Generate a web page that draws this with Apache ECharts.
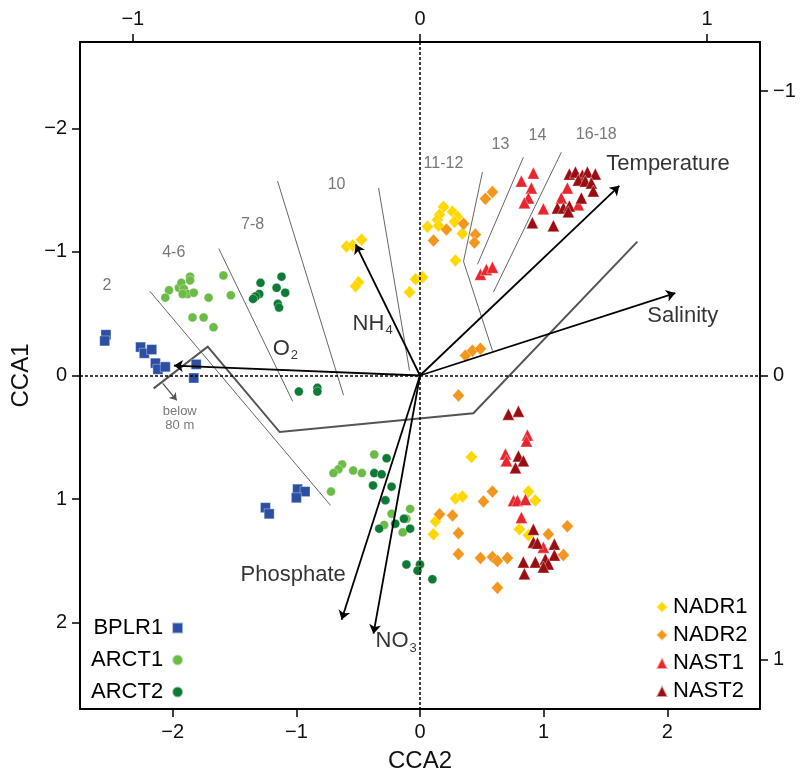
<!DOCTYPE html>
<html><head><meta charset="utf-8">
<script src="https://cdn.jsdelivr.net/npm/echarts@6/dist/echarts.min.js"></script>
<style>html,body{margin:0;padding:0;background:#fff}#c{width:809px;height:778px}</style>
</head><body><div id="c"></div>
<script>
// ---------- site scores (CCA2, CCA1) ----------
const BPLR1 = [[-2.54,-0.33],[-2.55,-0.28],[-2.26,-0.23],[-2.23,-0.18],[-2.17,-0.21],[-2.14,-0.10],[-2.12,-0.05],[-2.06,-0.07],[-1.81,-0.09],[-1.83,0.02],
  [-0.99,0.92],[-0.93,0.94],[-1.00,0.99],[-1.25,1.07],[-1.22,1.12]];
const ARCT1 = [[-2.03,-0.69],[-2.06,-0.63],[-1.95,-0.71],[-1.93,-0.75],[-1.86,-0.80],[-1.86,-0.77],[-1.91,-0.70],[-1.88,-0.66],[-1.83,-0.67],[-1.92,-0.66],
  [-1.71,-0.63],[-1.59,-0.81],[-1.53,-0.65],[-1.84,-0.47],[-1.75,-0.47],[-1.67,-0.39],
  [-0.63,0.72],[-0.66,0.76],[-0.70,0.79],[-0.54,0.77],[-0.47,0.79],[-0.37,0.64],[-0.72,0.94],[-0.23,1.12],[-0.08,1.08],[-0.11,1.16],[-0.29,1.21],[-0.14,1.27]];
const ARCT2 = [[-1.29,-0.75],[-1.12,-0.80],[-1.16,-0.71],[-1.09,-0.67],[-1.30,-0.66],[-1.33,-0.64],[-1.35,-0.62],[-1.15,-0.58],[-1.14,-0.55],
  [-0.98,0.13],[-0.83,0.10],[-0.83,0.13],
  [-0.27,0.67],[-0.37,0.79],[-0.31,0.80],[-0.38,0.89],[-0.23,0.90],[-0.28,1.01],[-0.13,1.16],[-0.20,1.20],[-0.33,1.24],[-0.08,1.24],
  [-0.11,1.53],[0.00,1.53],[-0.02,1.58],[0.10,1.65]];
const NADR1 = [[-0.594,-1.044],[-0.545,-1.052],[-0.473,-1.100],[-0.497,-0.755],[-0.521,-0.723],[-0.085,-0.675],[-0.036,-0.779],[0.020,-0.795],
  [0.061,-1.205],[0.190,-1.365],[0.158,-1.301],[0.141,-1.261],[0.150,-1.213],[0.263,-1.325],[0.303,-1.285],[0.279,-1.245],[0.343,-1.149],[0.287,-0.932],
  [0.416,0.659],[0.287,0.996],[0.343,0.980],[0.125,1.181],[0.109,1.285],[0.877,0.940],[0.933,1.012],[0.804,1.245],[0.877,1.293]];
const NADR2 = [[0.586,-1.486],[0.529,-1.430],[0.109,-1.092],[0.214,-1.181],[0.352,-1.229],[0.448,-1.141],[0.440,-1.076],
  [0.368,-0.161],[0.424,-0.201],[0.489,-0.217],[0.311,0.161],
  [0.586,0.940],[0.513,1.020],[0.158,1.124],[0.263,1.133],[0.311,1.277],[0.311,1.446],[0.489,1.478],[0.586,1.470],[0.626,1.502],[0.707,1.478],
  [0.626,1.719],[1.038,1.285],[1.192,1.221],[1.160,1.454]];
const NAST1 = [[0.917,-1.639],[0.820,-1.574],[0.901,-1.518],[0.877,-1.438],[0.844,-1.398],[0.998,-1.349],[1.192,-1.518],[1.143,-1.438],[1.281,-1.382],
  [0.489,-0.819],[0.537,-0.859],[0.586,-0.876],
  [0.869,0.482],[0.861,0.530],[0.691,0.635],[0.699,0.691],[0.756,1.012],[0.788,1.012],[0.853,1.004],[0.820,1.149],[0.998,1.390]];
const NAST2 = [[1.208,-1.631],[1.257,-1.647],[1.313,-1.622],[1.354,-1.647],[1.418,-1.631],[1.281,-1.582],[1.337,-1.574],[1.386,-1.558],[1.402,-1.494],
  [1.305,-1.438],[1.111,-1.357],[1.160,-1.357],[1.208,-1.373],[1.200,-1.325],[0.909,-1.237],[1.079,-1.213],
  [0.715,0.313],[0.796,0.289],[0.796,0.651],[0.836,0.691],[0.772,0.747],[0.917,1.245],[0.917,1.349],[0.950,1.357],[1.087,1.365],[1.087,1.454],
  [0.836,1.510],[0.933,1.510],[1.014,1.486],[1.038,1.526],[0.998,1.550],[0.844,1.606]];

// ---------- environmental vectors (top / right scale) ----------
const envNames = ['Temperature','Salinity','NH4','O2','Phosphate','NO3'];
const envX = [0.694, 0.889, -0.224, -0.857, -0.273, -0.162];
const envY = [-0.667, -0.290, -0.461, -0.035, 0.859, 0.908];
const envLabelX = [1.507, 1.838, -0.545, -1.192, -1.451, -0.360];
const envLabelY = [-1.711, -0.482, -0.418, -0.217, 1.614, 2.153];

// ---------- temperature isolines (bottom / left scale) ----------
const isoLines = [
  [[-2.186,-0.683],[-0.723,1.052]],
  [[-1.628,-1.028],[-1.030,0.209]],
  [[-1.152,-1.574],[-0.618,0.161]],
  [[-0.335,-1.518],[-0.085,-0.040]],
  [[0.505,-1.647],[0.352,-0.924],[0.586,-0.201]],
  [[0.836,-1.767],[0.465,-0.900]],
  [[1.143,-1.807],[0.594,-0.675]]
];
const isoLabels = ['2','4-6','7-8','10','11-12','13','14','16-18'];
const isoLabelX = [-2.533,-1.992,-1.354,-0.675,0.190,0.651,0.950,1.426];
const isoLabelY = [-0.731,-0.996,-1.221,-1.542,-1.719,-1.871,-1.944,-1.952];
const depthBoundary = [[-2.154,0.104],[-1.717,-0.233],[-1.135,0.458],[0.432,0.305],[1.758,-1.084]];
const belowArrow = [[-2.081,0.064],[-1.968,0.201]];
const belowLabel = [-1.943, 0.345];

// ---------- axes ----------
const xTicks = [-2,-1,0,1,2];
const yTicks = [-2,-1,0,1,2];
const x2Ticks = [-1,0,1];
const y2Ticks = [-1,0,1];

const FONT = 'Liberation Sans, Arial, Helvetica, sans-serif';
const fmt = v => v < 0 ? '\u2212' + Math.abs(v) : String(v);
const lineAx = {show:true, onZero:false, lineStyle:{color:'#000', width:2}};
function ax(ticks, extra){
  return Object.assign({
    type:'value', splitLine:{show:false}, axisLine:lineAx,
    axisTick:{show:true, inside:false, length:8, customValues:ticks, lineStyle:{color:'#000', width:1.5}},
    axisLabel:{show:true, customValues:ticks, formatter:fmt, fontSize:20, color:'#111', fontFamily:FONT, margin:13}
  }, extra);
}

const subRich = {
  m:{fontSize:22, fontFamily:FONT, color:'#000', textBorderWidth:0},
  s:{fontSize:13, fontFamily:FONT, color:'#000', textBorderWidth:0, padding:[14,0,0,1]}
};
function envFmt(n){
  if (n === 'NH4') return '{m|NH}{s|4}';
  if (n === 'O2') return '{m|O}{s|2}';
  if (n === 'NO3') return '{m|NO}{s|3}';
  return '{m|' + n + '}';
}
const hidden = {color:'rgba(0,0,0,0)', borderWidth:0};

const chart = echarts.init(document.getElementById('c'), null, {renderer:'canvas'});
const pt = (name, symbol, size, color, data) => ({
  name, type:'scatter', symbol, symbolSize:size, data, z:3,
  itemStyle:{color, borderColor:'rgba(255,255,255,0.6)', borderWidth:0.6, opacity:1}
});

chart.setOption({
  animation:false,
  backgroundColor:'#fff',
  textStyle:{fontFamily:FONT},
  grid:{left:80, right:49, top:42, bottom:65, containLabel:false},
  xAxis:[
    ax(xTicks, {position:'bottom', min:-2.75, max:2.75, name:'CCA2', nameLocation:'middle', nameGap:40,
      nameTextStyle:{fontSize:24, color:'#111', fontFamily:FONT}}),
    ax(x2Ticks, {position:'top', min:-1.184, max:1.184})
  ],
  yAxis:[
    ax(yTicks, {position:'left', inverse:true, min:-2.7, max:2.7, name:'CCA1', nameLocation:'middle', nameGap:43, nameRotate:90,
      nameTextStyle:{fontSize:24, color:'#111', fontFamily:FONT}}),
    ax(y2Ticks, {position:'right', inverse:true, min:-1.173, max:1.173})
  ],
  legend:[
    {data:['BPLR1','ARCT1','ARCT2'], orient:'vertical', left:86, top:612, align:'right', itemGap:10,
     itemWidth:11, itemHeight:11, textStyle:{fontSize:22, color:'#000', fontFamily:FONT, padding:[0,4,0,0]}},
    {data:['NADR1','NADR2','NAST1','NAST2'], orient:'vertical', left:650, top:591, align:'left', itemGap:6,
     itemWidth:12, itemHeight:12, textStyle:{fontSize:22, color:'#000', fontFamily:FONT}}
  ],
  series:[
    {type:'lines', coordinateSystem:'cartesian2d', polyline:true, silent:true, z:1,
     lineStyle:{color:'#666', width:1, opacity:1},
     data:isoLines.map(c => ({coords:c}))},
    {type:'lines', coordinateSystem:'cartesian2d', polyline:true, silent:true, z:1,
     lineStyle:{color:'#555', width:2, opacity:1},
     data:[{coords:depthBoundary}]},
    {type:'lines', coordinateSystem:'cartesian2d', silent:true, z:1,
     symbol:['none','arrow'], symbolSize:7,
     lineStyle:{color:'#555', width:1.3, opacity:1},
     data:[{coords:belowArrow}]},
    {type:'scatter', symbol:'circle', symbolSize:1, itemStyle:hidden, silent:true, z:2,
     data:isoLabels.map((n,i) => ({name:n, value:[isoLabelX[i], isoLabelY[i]]})),
     label:{show:true, position:'inside', formatter:p => p.name, fontSize:16, color:'#555', textBorderWidth:0, fontFamily:FONT},
     markLine:{silent:true, symbol:['none','none'], label:{show:false},
       lineStyle:{type:[3,2], color:'#000', width:1.5},
       data:[{xAxis:0},{yAxis:0}]}},
    {type:'scatter', symbol:'circle', symbolSize:1, itemStyle:hidden, silent:true, z:2,
     data:[{name:'below\n80 m', value:belowLabel}],
     label:{show:true, position:'inside', formatter:p => p.name, fontSize:13, lineHeight:14, color:'#555', textBorderWidth:0, fontFamily:FONT}},
    pt('BPLR1','rect',10,'#2b4fa3',BPLR1),
    pt('ARCT1','circle',9,'#6cbb47',ARCT1),
    pt('ARCT2','circle',9,'#0d7a35',ARCT2),
    pt('NADR1','diamond',[12,13],'#ffd800',NADR1),
    pt('NADR2','diamond',[12,13],'#f2961d',NADR2),
    pt('NAST1','triangle',12,'#e8262e',NAST1),
    pt('NAST2','triangle',12,'#9c0d12',NAST2),
    {type:'lines', coordinateSystem:'cartesian2d', xAxisIndex:1, yAxisIndex:1, silent:true, z:5,
     symbol:['none','arrow'], symbolSize:9,
     lineStyle:{color:'#000', width:1.8, opacity:1},
     data:envX.map((x,i) => ({coords:[[0,0],[x,envY[i]]]}))},
    {type:'scatter', symbol:'circle', symbolSize:1, itemStyle:hidden, silent:true, z:6,
     data:envNames.map((n,i) => ({name:n, value:[envLabelX[i], envLabelY[i]]})),
     label:{show:true, position:'inside', align:'left', verticalAlign:'middle', color:'#000', textBorderWidth:0,
       formatter:p => envFmt(p.name), rich:subRich}}
  ]
});
</script>
</body></html>
